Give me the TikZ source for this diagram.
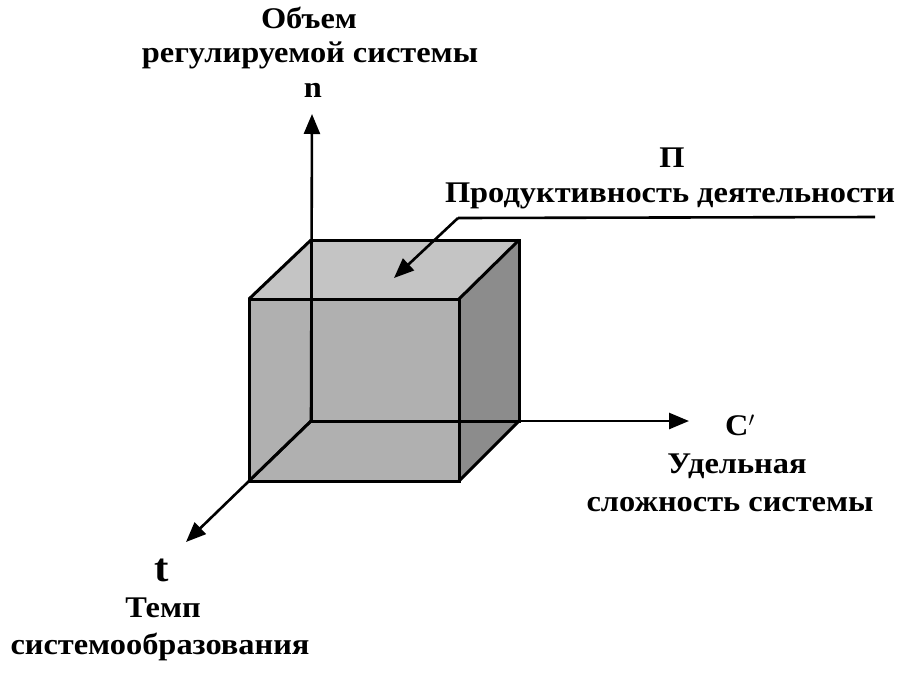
\documentclass[tikz,border=0pt]{standalone}
\usepackage{fontspec}
\setmainfont{Liberation Serif}[FakeStretch=1.08]
\usetikzlibrary{arrows.meta}
\begin{document}
\begin{tikzpicture}[x=1pt,y=-1pt,
  edge/.style={line width=3pt,line join=miter},
  axis/.style={line width=2.6pt,-{Triangle[length=20pt,width=16pt]}},
  lbl/.style={font=\fontsize{30}{30}\selectfont\bfseries,inner sep=0pt,anchor=center}]
\useasboundingbox (0,0) rectangle (909,681);
% cube corners
\coordinate (A) at (249,299); \coordinate (B) at (459,299);
\coordinate (C) at (459,481); \coordinate (D) at (249,481);
\coordinate (E) at (311,240); \coordinate (F) at (519,240);
\coordinate (G) at (519,421); \coordinate (H) at (311,421);
% faces
\fill[black!23] (A) -- (B) -- (F) -- (E) -- cycle;
\fill[black!45] (B) -- (F) -- (G) -- (C) -- cycle;
\fill[black!31] (A) -- (B) -- (C) -- (D) -- cycle;
% axes
\coordinate (ntip) at (312,114);
\coordinate (ctip) at (689,421);
\coordinate (ttip) at (186,542);
\draw[axis] (H) -- (ntip);
\draw[axis] (H) -- (ctip);
\draw[axis] (H) -- (ttip);
% edges
\draw[edge] (E) -- (F) -- (G) -- (H) -- cycle;
\draw[edge] (A) -- (B) -- (C) -- (D) -- cycle;
\draw[edge] (A) -- (E) (B) -- (F) (C) -- (G) (D) -- (H);
% pointer
\coordinate (p1) at (875,217);
\coordinate (p2) at (458,218);
\coordinate (ptip) at (394,278);
\draw[line width=2.6pt] (p1) -- (p2);
\draw[line width=2.6pt,-{Triangle[length=20pt,width=16pt]}] (p2) -- (ptip);
% labels
\node[lbl] (l1) at (309,18) {Объем};
\node[lbl] (l2) at (310,55) {регулируемой системы};
\node[lbl] (ln) at (313,90) {n};
\node[lbl] (lP) at (672,158) {П};
\node[lbl] (lP2) at (670,196) {Продуктивность деятельности};
\node[lbl] (lC) at (740,425) {C$'$};
\node[lbl] (lC2) at (737,466) {Удельная};
\node[lbl] (lC3) at (730,505) {сложность системы};
\node[lbl,font=\fontsize{40}{40}\selectfont\bfseries] (lt) at (162,570) {t};
\node[lbl] (lt2) at (163,608) {Темп};
\node[lbl] (lt3) at (160,647) {системообразования};
\end{tikzpicture}
\end{document}
